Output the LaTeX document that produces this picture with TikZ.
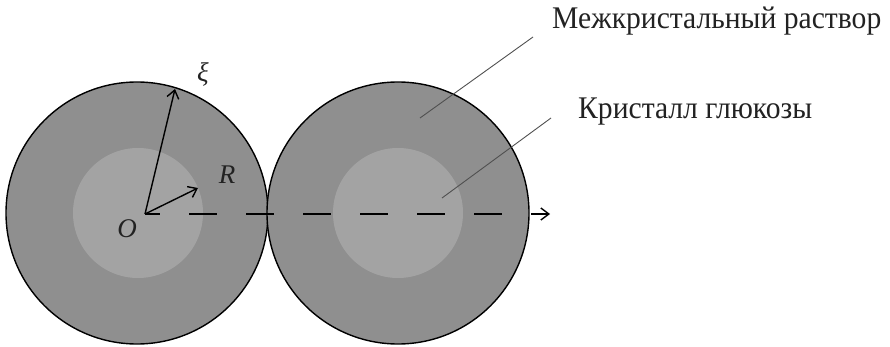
\documentclass[tikz,border=0pt]{standalone}
\usepackage{fontspec}
\setmainfont{Liberation Serif}
\usetikzlibrary{arrows.meta}
\definecolor{shellgray}{HTML}{8F8F8F}
\definecolor{coregray}{HTML}{A3A3A3}
\definecolor{leadergray}{HTML}{505050}
\definecolor{textgray}{HTML}{222222}
\newcommand{\narrowtext}[1]{\scalebox{0.94}[1]{#1}}
\tikzset{
  shell/.style={circle, fill=shellgray, draw=black, line width=1.4pt, minimum size=262pt, inner sep=0pt},
  core/.style={circle, fill=coregray, minimum size=130pt, inner sep=0pt},
  vec/.style={line width=1.4pt, -{Straight Barb[length=8pt,width=12pt,line width=1.4pt]}},
  axis/.style={line width=1.4pt, dash pattern=on 28pt off 29pt, dash phase=13pt, -{Straight Barb[length=8pt,width=12pt,line width=1.4pt]}},
  leader/.style={draw=leadergray, line width=0.9pt},
  lbl/.style={text=textgray, font=\fontsize{31.5pt}{36pt}\selectfont, anchor=base west, inner sep=0pt},
  mlbl/.style={text=textgray, font=\fontsize{27pt}{30pt}\selectfont\itshape, inner sep=0pt}
}
\begin{document}
\begin{tikzpicture}[x=1pt,y=-1pt]
\useasboundingbox (0,0) rectangle (890,347);
\node[shell] (c1) at (137,213) {};
\node[shell] (c2) at (398,213) {};
\node[core] (k1) at (138,213) {};
\node[core] (k2) at (398,213) {};
\coordinate (O) at (145,214);
\coordinate (xitip) at (175,89);
\coordinate (Rtip) at (198,188);
\coordinate (axend) at (550,214);
\draw[axis] (O) -- (axend);
\draw[vec] (O) -- (xitip);
\draw[vec] (O) -- (Rtip);
\node[mlbl] (xi) at (203,74) {ξ};
\node[mlbl] (R) at (227,175) {R};
\node[mlbl] (Olbl) at (127,229) {O};
\node[lbl] (t1) at (552,29) {\narrowtext{Межкристальный раствор}};
\node[lbl] (t2) at (578,119) {\narrowtext{Кристалл глюкозы}};
\coordinate (p1) at (420,118);
\coordinate (q1) at (533,37);
\coordinate (p2) at (442,198);
\coordinate (q2) at (551,118);
\draw[leader] (p1) -- (q1);
\draw[leader] (p2) -- (q2);
\end{tikzpicture}
\end{document}
